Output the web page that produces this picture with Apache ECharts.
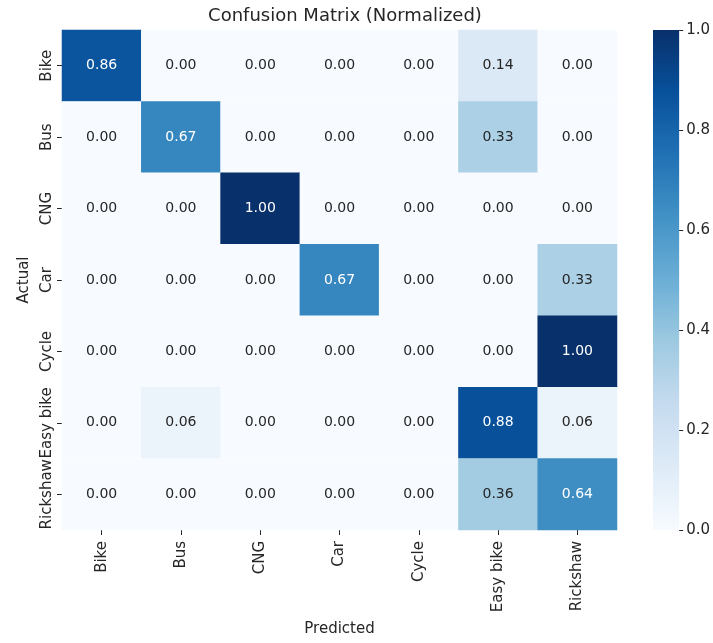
<!DOCTYPE html>
<html>
<head>
<meta charset="utf-8">
<script src="https://cdn.jsdelivr.net/npm/echarts@6/dist/echarts.min.js"></script>
<style>
  html, body { margin: 0; padding: 0; background: #ffffff; }
  #chart { width: 713px; height: 643px; }
</style>
</head>
<body>
<div id="chart"></div>
<script>
// Class names (rows = actual, columns = predicted)
const classes = ['Bike', 'Bus', 'CNG', 'Car', 'Cycle', 'Easy bike', 'Rickshaw'];

// Row-normalized confusion matrix, one array per actual class
const rowBike     = [0.86, 0.00, 0.00, 0.00, 0.00, 0.14, 0.00];
const rowBus      = [0.00, 0.67, 0.00, 0.00, 0.00, 0.33, 0.00];
const rowCNG      = [0.00, 0.00, 1.00, 0.00, 0.00, 0.00, 0.00];
const rowCar      = [0.00, 0.00, 0.00, 0.67, 0.00, 0.00, 0.33];
const rowCycle    = [0.00, 0.00, 0.00, 0.00, 0.00, 0.00, 1.00];
const rowEasyBike = [0.00, 0.06, 0.00, 0.00, 0.00, 0.88, 0.06];
const rowRickshaw = [0.00, 0.00, 0.00, 0.00, 0.00, 0.36, 0.64];
const matrixRows = [rowBike, rowBus, rowCNG, rowCar, rowCycle, rowEasyBike, rowRickshaw];

// Colorbar range and tick step
const colorbarMin = 0.0;
const colorbarMax = 1.0;
const colorbarStep = 0.2;

// "Blues" sequential palette
const blues = ['#f7fbff', '#deebf7', '#c6dbef', '#9ecae1', '#6baed6',
               '#4292c6', '#2171b5', '#08519c', '#08306b'];

const cells = [];
matrixRows.forEach((row, r) => {
  row.forEach((v, c) => cells.push([c, r, v]));
});

const FONT = 'DejaVu Sans';
const TXT = '#262626';
const FS = 15;

// Vertical gradient for the colorbar: bottom = min colour, top = max colour
const gradientStops = blues.map((c, i) => ({ offset: 1 - i / (blues.length - 1), color: c }));

const chart = echarts.init(document.getElementById('chart'), null, { renderer: 'canvas' });

chart.setOption({
  backgroundColor: '#ffffff',
  animation: false,
  title: {
    text: 'Confusion Matrix (Normalized)',
    left: 340, top: 2, textAlign: 'center',
    textStyle: { fontFamily: FONT, fontSize: 18, fontWeight: 'normal', color: TXT }
  },
  grid: [
    { left: 62, top: 30, width: 555, height: 500 },
    { left: 653, top: 30, width: 27, height: 500 }
  ],
  xAxis: [
    {
      type: 'category', gridIndex: 0, data: classes, position: 'bottom',
      name: 'Predicted', nameLocation: 'middle', nameGap: 92,
      nameTextStyle: { fontFamily: FONT, fontSize: FS, color: TXT },
      axisLine: { show: false },
      axisTick: { show: true, alignWithLabel: true, interval: 0, length: 5, lineStyle: { color: TXT } },
      axisLabel: { rotate: 90, interval: 0, fontFamily: FONT, fontSize: FS, color: TXT, margin: 11 },
      splitLine: { show: false }
    },
    {
      type: 'value', gridIndex: 1, min: 0, max: 1, show: false
    }
  ],
  yAxis: [
    {
      type: 'category', gridIndex: 0, data: classes, inverse: true,
      name: 'Actual', nameLocation: 'middle', nameGap: 28, nameRotate: 90,
      nameTextStyle: { fontFamily: FONT, fontSize: FS, color: TXT },
      axisLine: { show: false },
      axisTick: { show: true, alignWithLabel: true, interval: 0, length: 5, lineStyle: { color: TXT } },
      axisLabel: { rotate: 90, interval: 0, fontFamily: FONT, fontSize: FS, color: TXT, margin: 7 },
      splitLine: { show: false }
    },
    {
      type: 'value', gridIndex: 1, min: colorbarMin, max: colorbarMax, interval: colorbarStep,
      position: 'right',
      axisLine: { show: true, onZero: false, lineStyle: { color: 'rgba(0,0,0,0)' } },
      axisTick: { show: true, inside: false, length: 4, lineStyle: { color: TXT, width: 1 } },
      axisLabel: {
        fontFamily: FONT, fontSize: FS, color: TXT, margin: 7,
        formatter: v => v.toFixed(1)
      },
      splitLine: { show: false },
      z: 10
    }
  ],
  visualMap: {
    type: 'continuous',
    show: false,
    min: colorbarMin, max: colorbarMax,
    seriesIndex: 0,
    inRange: { color: blues }
  },
  series: [
    {
      type: 'heatmap',
      xAxisIndex: 0, yAxisIndex: 0,
      data: cells.map(d => ({
        value: d,
        // white text on dark cells, near-black on light ones
        label: { color: d[2] > 0.5 ? '#ffffff' : TXT }
      })),
      itemStyle: { borderWidth: 0 },
      label: {
        show: true,
        fontFamily: FONT, fontSize: 14,
        formatter: p => p.value[2].toFixed(2)
      },
      emphasis: { disabled: true }
    },
    {
      // colorbar: one gradient rectangle spanning the value range
      type: 'custom',
      xAxisIndex: 1, yAxisIndex: 1,
      silent: true,
      data: [[colorbarMin, colorbarMax]],
      renderItem: (params, api) => {
        const lo = api.coord([0, api.value(0)]);
        const hi = api.coord([1, api.value(1)]);
        return {
          type: 'rect',
          shape: { x: lo[0], y: hi[1], width: hi[0] - lo[0], height: lo[1] - hi[1] },
          style: { fill: new echarts.graphic.LinearGradient(0, 0, 0, 1, gradientStops) }
        };
      }
    }
  ]
});
</script>
</body>
</html>
